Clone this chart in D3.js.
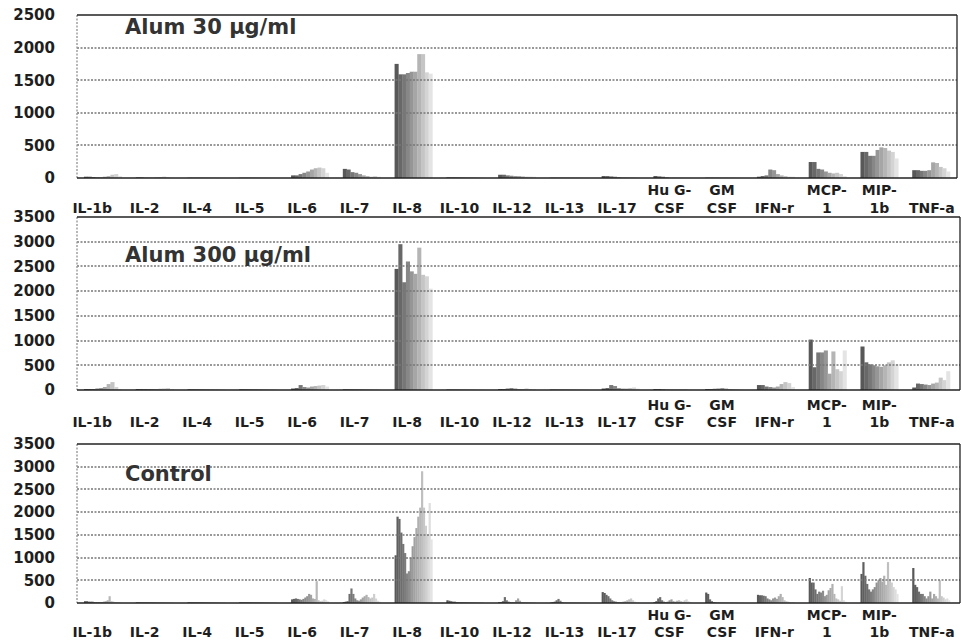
<!DOCTYPE html>
<html>
<head>
<meta charset="utf-8">
<script src="https://cdn.jsdelivr.net/npm/d3@7"></script>
<style>
  body { margin: 0; background: #fff; }
  svg { display: block; }
  text { font-family: 'DejaVu Sans', sans-serif; font-weight: bold; }
</style>
</head>
<body>
<svg id="chart" width="962" height="643"></svg>
<script>
// cytokine categories and the (wrapped) tick labels under each group
const categories = ['IL-1b', 'IL-2', 'IL-4', 'IL-5', 'IL-6', 'IL-7', 'IL-8', 'IL-10', 'IL-12', 'IL-13',
  'IL-17', 'Hu G-CSF', 'GM CSF', 'IFN-r', 'MCP-1', 'MIP-1b', 'TNF-a'];
const tickLabels = [['IL-1b'], ['IL-2'], ['IL-4'], ['IL-5'], ['IL-6'], ['IL-7'], ['IL-8'], ['IL-10'], ['IL-12'],
  ['IL-13'], ['IL-17'], ['Hu G-', 'CSF'], ['GM', 'CSF'], ['IFN-r'], ['MCP-', '1'], ['MIP-', '1b'], ['TNF-a']];

const ticks30 = [0, 500, 1000, 1500, 2000, 2500];
const ticks300 = [0, 500, 1000, 1500, 2000, 2500, 3000, 3500];

// values per category, one entry per sample (bar)
const alum30 = [
  [20, 20, 15, 10, 10, 20, 30, 50, 60, 30],
  [10, 10, 5, 5, 5, 10, 15, 20, 10, 5],
  [5, 5, 5, 5, 5, 5, 5, 5, 5, 5],
  [5, 5, 5, 5, 5, 5, 5, 5, 5, 5],
  [40, 40, 60, 80, 100, 130, 150, 160, 150, 80],
  [140, 130, 90, 80, 60, 40, 30, 20, 30, 20],
  [1750, 1590, 1590, 1610, 1630, 1630, 1900, 1900, 1620, 1600],
  [10, 10, 10, 10, 10, 10, 10, 10, 10, 10],
  [50, 50, 40, 35, 30, 30, 25, 20, 20, 20],
  [5, 5, 5, 5, 5, 5, 5, 5, 5, 5],
  [30, 30, 25, 20, 15, 10, 10, 10, 10, 10],
  [30, 25, 20, 10, 5, 5, 5, 5, 5, 5],
  [5, 5, 5, 5, 5, 5, 5, 5, 5, 5],
  [20, 30, 40, 130, 120, 60, 40, 30, 20, 20],
  [245, 245, 140, 130, 100, 80, 70, 80, 60, 30],
  [400, 400, 340, 340, 430, 470, 460, 420, 400, 300],
  [120, 120, 110, 110, 120, 240, 230, 170, 150, 100]
];

const alum300 = [
  [20, 20, 20, 30, 40, 60, 120, 160, 60, 20],
  [20, 20, 20, 20, 20, 20, 25, 30, 40, 20],
  [15, 15, 15, 15, 15, 15, 15, 15, 15, 15],
  [15, 15, 15, 15, 15, 15, 15, 15, 15, 15],
  [30, 40, 100, 60, 50, 70, 80, 90, 100, 70],
  [15, 15, 15, 15, 15, 15, 15, 15, 15, 15],
  [2450, 2950, 2180, 2600, 2400, 2350, 2880, 2330, 2300, 2050],
  [10, 10, 10, 10, 10, 10, 10, 10, 10, 10],
  [20, 20, 30, 40, 30, 20, 20, 30, 20, 20],
  [10, 10, 10, 10, 10, 10, 10, 10, 10, 10],
  [30, 40, 100, 80, 40, 30, 30, 40, 50, 30],
  [20, 20, 15, 10, 10, 10, 10, 15, 20, 10],
  [20, 20, 25, 30, 40, 30, 20, 20, 15, 10],
  [100, 100, 70, 60, 50, 70, 120, 160, 140, 60],
  [1020, 460, 760, 760, 800, 330, 780, 420, 380, 800],
  [880, 560, 520, 500, 480, 470, 500, 560, 600, 520],
  [50, 130, 120, 110, 100, 130, 150, 250, 200, 380]
];

const control = [
  [40, 40, 30, 30, 30, 20, 20, 20, 20, 20, 30, 40, 60, 150, 40, 30, 20, 20, 20, 10],
  [15, 15, 15, 15, 15, 15, 15, 15, 15, 15, 15, 15, 15, 15, 15, 15, 15, 15, 15, 15],
  [15, 15, 15, 15, 15, 15, 15, 15, 15, 15, 15, 15, 15, 15, 15, 15, 15, 15, 15, 15],
  [15, 15, 15, 15, 15, 15, 15, 15, 15, 15, 15, 15, 15, 15, 15, 15, 15, 15, 15, 15],
  [80, 90, 100, 90, 80, 70, 90, 120, 150, 200, 180, 100, 90, 480, 60, 40, 50, 80, 60, 40],
  [20, 30, 40, 200, 320, 200, 100, 60, 50, 80, 120, 150, 180, 130, 100, 120, 200, 100, 50, 30],
  [1050, 1900, 1850, 1550, 1300, 1100, 650, 700, 1000, 1250, 1450, 1650, 1900, 2100, 2900, 2100, 1700, 1500, 2200, 1400],
  [60, 50, 40, 30, 30, 20, 20, 20, 20, 20, 20, 20, 20, 20, 20, 20, 20, 20, 20, 20],
  [20, 20, 40, 130, 60, 30, 20, 20, 20, 60, 100, 50, 20, 20, 20, 20, 20, 20, 20, 20],
  [10, 20, 30, 60, 90, 50, 20, 10, 10, 10, 10, 10, 10, 10, 10, 10, 10, 10, 10, 10],
  [240, 220, 180, 150, 100, 60, 40, 30, 20, 20, 20, 30, 40, 60, 80, 100, 60, 30, 20, 20],
  [20, 40, 100, 130, 60, 30, 20, 30, 60, 80, 40, 30, 50, 60, 40, 30, 60, 80, 40, 20],
  [230, 200, 80, 40, 20, 15, 10, 10, 10, 10, 10, 10, 10, 10, 10, 10, 10, 10, 10, 10],
  [180, 170, 170, 160, 150, 100, 80, 60, 100, 120, 90, 150, 200, 130, 60, 40, 30, 20, 20, 20],
  [550, 450, 450, 300, 200, 250, 230, 270, 150, 180, 280, 330, 420, 200, 100, 80, 50, 370, 60, 30],
  [640, 900, 600, 420, 300, 250, 300, 350, 450, 500, 550, 470, 600, 400, 900, 520, 450, 350, 300, 200],
  [770, 400, 350, 250, 200, 200, 150, 100, 150, 250, 100, 200, 150, 100, 500, 150, 120, 80, 100, 60]
];

const panels = [
  { title: 'Alum 30 µg/ml', data: alum30, ticks: ticks30, top: 15, zero: 178, right: 957, titleY: 34, line1Y: 195, line2Y: 213 },
  { title: 'Alum 300 µg/ml', data: alum300, ticks: ticks300, top: 217, zero: 390, right: 960, titleY: 262, line1Y: 410, line2Y: 427 },
  { title: 'Control', data: control, ticks: ticks300, top: 444, zero: 603, right: 960, titleY: 481, line1Y: 620, line2Y: 637 }
];

const svg = d3.select('#chart');
const left = 77;

// bars are laid out on this band
const x = d3.scaleBand().domain(categories).range([left, 957]).paddingInner(0.27).paddingOuter(0.135);
// the category text sits on a slightly wider spacing
const xLabel = d3.scaleBand().domain(categories).range([66, 958]);

panels.forEach(p => {
  const g = svg.append('g');
  const y = d3.scaleLinear().domain([0, d3.max(p.ticks)]).range([p.zero, p.top]);
  const n = p.data[0].length;
  const xs = d3.scaleBand().domain(d3.range(n)).range([0, x.bandwidth()]);
  const shade = d3.scaleLinear().domain([0, n - 1]).range(['#585858', '#e4e4e4']);

  // bars
  g.selectAll('.grp')
    .data(p.data)
    .enter().append('g')
    .attr('class', 'grp')
    .attr('transform', (d, i) => `translate(${x(categories[i])},0)`)
    .selectAll('rect')
    .data(d => d)
    .enter().append('rect')
    .attr('x', (d, j) => xs(j))
    .attr('width', xs.bandwidth() + 0.3)
    .attr('y', d => y(d))
    .attr('height', d => p.zero - y(d))
    .attr('fill', (d, j) => shade(j));

  // dotted gridlines
  p.ticks.slice(1, -1).forEach(t => {
    g.append('line')
      .attr('x1', left).attr('x2', p.right)
      .attr('y1', Math.round(y(t))).attr('y2', Math.round(y(t)))
      .attr('stroke', '#777')
      .attr('stroke-width', 1.4)
      .attr('stroke-dasharray', '2,1.5');
  });
  // left frame edge
  g.append('line')
    .attr('x1', left).attr('x2', left).attr('y1', p.top).attr('y2', p.zero)
    .attr('stroke', '#999')
    .attr('stroke-width', 1.4)
    .attr('stroke-dasharray', '2,1.5');

  // frame: top, right and zero line
  g.append('line').attr('x1', left).attr('x2', p.right).attr('y1', p.top).attr('y2', p.top)
    .attr('stroke', '#222').attr('stroke-width', 1.5);
  g.append('line').attr('x1', p.right).attr('x2', p.right).attr('y1', p.top).attr('y2', p.zero)
    .attr('stroke', '#222').attr('stroke-width', 1.3);
  g.append('line').attr('x1', left).attr('x2', p.right).attr('y1', p.zero).attr('y2', p.zero)
    .attr('stroke', '#222').attr('stroke-width', 1.5);

  // y axis labels
  g.append('g')
    .attr('transform', 'translate(58,0)')
    .call(d3.axisLeft(y).tickValues(p.ticks).tickSize(0).tickPadding(3).tickFormat(d3.format('d')))
    .call(a => a.select('.domain').remove())
    .call(a => a.selectAll('text')
      .attr('fill', '#1e1e1e')
      .style('font-size', '15px')
      .style('font-family', "'DejaVu Sans', sans-serif")
      .style('font-weight', 'bold'));

  // x axis labels, bottom aligned, two-line ones wrap upward
  const xa = g.append('g')
    .attr('transform', `translate(0,${p.line2Y})`)
    .call(d3.axisBottom(xLabel).tickSize(0).tickFormat(''));
  xa.select('.domain').remove();
  xa.selectAll('.tick').each(function (d, i) {
    const lines = tickLabels[i];
    const t = d3.select(this).select('text')
      .attr('y', 0).attr('dy', null)
      .attr('fill', '#1e1e1e')
      .style('font-size', '14px')
      .style('font-family', "'DejaVu Sans', sans-serif")
      .style('font-weight', 'bold');
    lines.forEach((s, k) => {
      t.append('tspan')
        .attr('x', 0)
        .attr('y', k === lines.length - 1 ? 0 : p.line1Y - p.line2Y)
        .text(s);
    });
  });

  // panel title
  g.append('text')
    .attr('x', 125)
    .attr('y', p.titleY)
    .attr('fill', '#333')
    .style('font-size', '21px')
    .text(p.title);
});
</script>
</body>
</html>
